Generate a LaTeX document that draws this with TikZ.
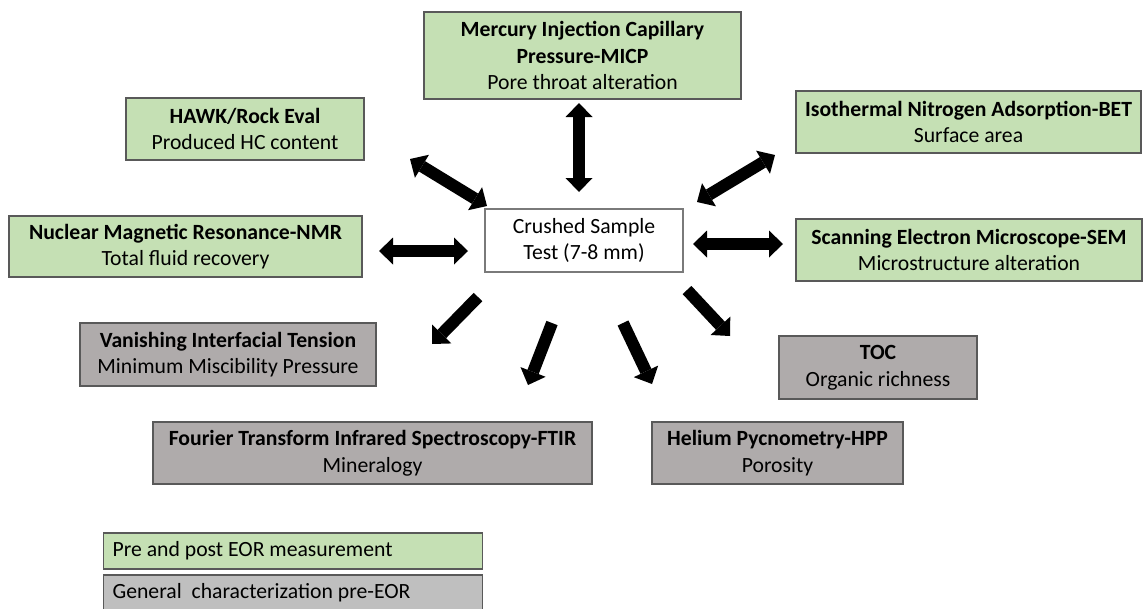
\documentclass[tikz,border=0pt]{standalone}
\usepackage{fontspec}
\setmainfont{Carlito}
\usetikzlibrary{arrows.meta}
\definecolor{gfill}{HTML}{C5E0B4}
\definecolor{kfill}{HTML}{AFABAB}
\definecolor{lfill}{HTML}{BFBFBF}
\definecolor{bord}{HTML}{595959}
\begin{document}
\begin{tikzpicture}[x=1pt,y=-1pt,
 box/.style={draw=bord, line width=1.2pt, inner sep=0pt, align=center, text=black,
   font=\fontsize{21.7}{26.6}\selectfont},
 gbox/.style={box, fill=gfill},
 kbox/.style={box, fill=kfill},
 legbox/.style={box, align=flush left, inner xsep=9pt, text width=361pt, minimum height=36pt, anchor=west},
 tip/.tip={Triangle[width=27pt,length=14pt,line width=0pt]},
 dbl/.style={line width=12pt, tip-tip},
 one/.style={line width=12pt, -tip},
]
\useasboundingbox (0,0) rectangle (1148,608);

% boxes
\node[gbox, minimum width=317pt, minimum height=87pt] (micp) at (582.5,55.5)
  {\textbf{Mercury Injection Capillary}\\\textbf{Pressure-MICP}\\Pore throat alteration};
\node[gbox, minimum width=238pt, minimum height=62pt] (hawk) at (245,129)
  {\textbf{HAWK/Rock Eval}\\Produced HC content};
\node[gbox, minimum width=353pt, minimum height=61pt] (nmr) at (185.5,246.5)
  {\textbf{Nuclear Magnetic Resonance-NMR}\\Total fluid recovery};
\node[box, fill=white, draw=bord!80, minimum width=198pt, minimum height=63pt] (crush) at (584,240.5)
  {Crushed Sample\\Test (7-8 mm)};
\node[gbox, minimum width=345pt, minimum height=62pt] (bet) at (968.5,122)
  {\textbf{Isothermal Nitrogen Adsorption-BET}\\Surface area};
\node[gbox, minimum width=346pt, minimum height=62pt] (sem) at (969,250)
  {\textbf{Scanning Electron Microscope-SEM}\\Microstructure alteration};
\node[kbox, minimum width=296pt, minimum height=63pt] (vit) at (228,354.5)
  {\textbf{Vanishing Interfacial Tension}\\Minimum Miscibility Pressure};
\node[kbox, minimum width=439pt, minimum height=62pt] (ftir) at (372.5,453)
  {\textbf{Fourier Transform Infrared Spectroscopy-FTIR}\\Mineralogy};
\node[kbox, minimum width=198pt, minimum height=63pt] (toc) at (878,367.5)
  {\textbf{TOC}\\Organic richness};
\node[kbox, minimum width=251pt, minimum height=62pt] (hpp) at (777.5,453)
  {\textbf{Helium Pycnometry-HPP}\\Porosity};

% legend
\node[legbox, fill=gfill] (leg1) at (103,551) {Pre and post EOR measurement};
\begin{scope}
\clip (0,0) rectangle (1148,608);
\node[legbox, fill=lfill] (leg2) at (103,593) {General\ \ characterization pre-EOR};
\end{scope}

% arrow end points
\coordinate (m1) at (579,103);  \coordinate (m2) at (579,192);
\coordinate (h1) at (410,159);  \coordinate (h2) at (487,206);
\coordinate (n1) at (379,251);  \coordinate (n2) at (468,251);
\coordinate (b1) at (697,202);  \coordinate (b2) at (775,155);
\coordinate (s1) at (693,244);  \coordinate (s2) at (783,244);
\coordinate (v1) at (478,297);  \coordinate (v2) at (432,344);
\coordinate (f1) at (552,323);  \coordinate (f2) at (528,385);
\coordinate (p1) at (623,323);  \coordinate (p2) at (652,384);
\coordinate (t1) at (687,290);  \coordinate (t2) at (730,336);

\draw[dbl] (m1) -- (m2);
\draw[dbl] (h1) -- (h2);
\draw[dbl] (n1) -- (n2);
\draw[dbl] (b1) -- (b2);
\draw[dbl] (s1) -- (s2);
\draw[one] (v1) -- (v2);
\draw[one] (f1) -- (f2);
\draw[one] (p1) -- (p2);
\draw[one] (t1) -- (t2);
\end{tikzpicture}
\end{document}
